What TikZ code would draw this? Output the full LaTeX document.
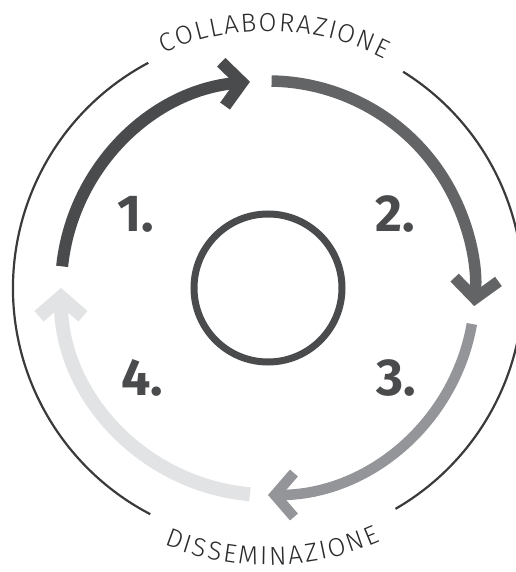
\documentclass[tikz,border=0pt]{standalone}
\usepackage{fontspec}
\setmainfont{Fira Sans}
\newfontfamily\ringfont{Fira Sans Light}
\usetikzlibrary{arrows.meta}
\usetikzlibrary{decorations.text}
\definecolor{stepone}{HTML}{4A4B4D}
\definecolor{steptwo}{HTML}{636466}
\definecolor{stepthree}{HTML}{939598}
\definecolor{stepfour}{HTML}{E2E3E4}
\definecolor{ringgray}{HTML}{3A3A3C}
\definecolor{ringtext}{HTML}{2B2B2D}

\begin{document}
\begin{tikzpicture}
    [%
        hub circle/.style={%
            draw=stepone,%
            circle,%
            line width=7pt,%
            minimum size=148pt,%
            inner sep=0pt%
        },%
        ring line/.style={%
            draw=ringgray,%
            line width=2.2pt%
        },%
        cycle arrow/.style={%
            -{Straight Barb[length=19pt,width=44pt,sharp]}%
        },%
        step number/.style={%
            text=stepone,%
            font=\bfseries\fontsize{52}{52}\selectfont%
        },%
        ring title/.style={%
            decorate,%
            decoration={%
                text along path,%
                text color=ringtext,%
                text align=fit to path,%
                text={|\ringfont\fontsize{26}{26}\selectfont|#1}%
            }%
        }%
    ]%
%
    \useasboundingbox (-268pt,-284pt) rectangle (247pt,288pt);
    \node[hub circle] (hub) at (0,0) {};
%
    % outer ring, left open where the two titles sit
    \draw[ring line] (hub.center) ++(118:255pt)
        arc[start angle=118, end angle=242.5, radius=255pt];
    \draw[ring line] (hub.center) ++(58:255pt)
        arc[start angle=58, end angle=-60, radius=255pt];
    \path[ring title=COLLABORAZIONE] (hub.center) ++(114:257pt)
        arc[start angle=114, end angle=63, radius=257pt];
    \path[ring title=DISSEMINAZIONE] (hub.center) ++(-112:277pt)
        arc[start angle=-112, end angle=-66, radius=277pt];
%
    % the four steps of the cycle
    % \from/\to start and end angle of the arrow
    % \lw line width, \shade colour
    \foreach \from/\to/\lw/\shade in {%
        174/95/12/stepone,%
        89/-5/11.5/steptwo,%
        -10/-90/10.5/stepthree,%
        265/180/14/stepfour%
    }{
        \draw[cycle arrow, line width=\lw pt, draw=\shade] (hub.center) ++(\from:207pt)
            arc[start angle=\from, end angle=\to, radius=207pt];
    } % \foreach \from/\to/\lw/\shade
%
    \node[step number] (step-1) at (-132pt,74pt) {1.};
    \node[step number] (step-2) at (127pt,74pt) {2.};
    \node[step number] (step-3) at (128pt,-90pt) {3.};
    \node[step number] (step-4) at (-126pt,-90pt) {4.};
\end{tikzpicture}
\end{document}
